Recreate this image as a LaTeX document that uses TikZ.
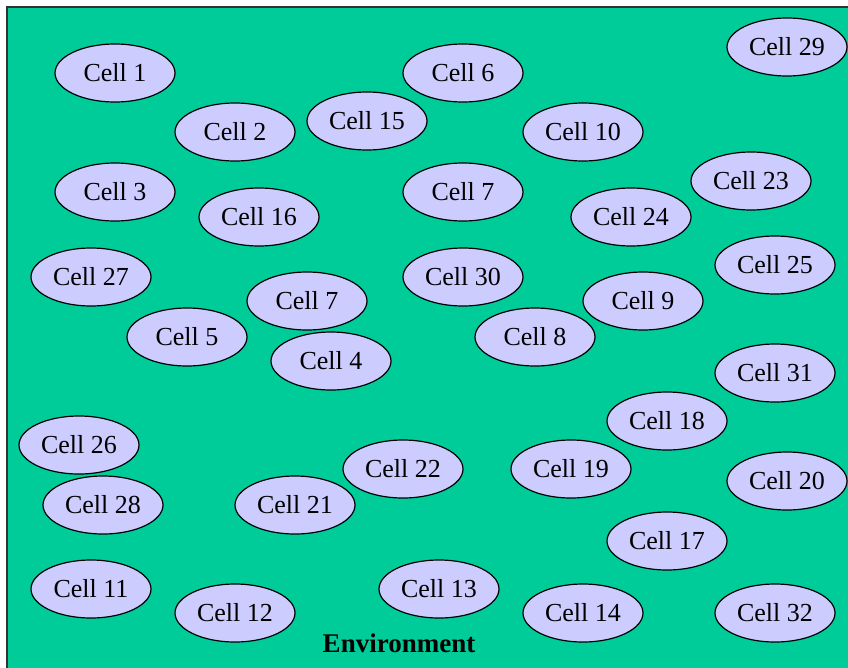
\documentclass[tikz,border=0pt]{standalone}
\usepackage{fontspec}
\setmainfont{Liberation Serif}
\usetikzlibrary{shapes.geometric}
\definecolor{envgreen}{RGB}{0,204,153}
\definecolor{cellfill}{RGB}{204,204,255}
\tikzset{
  cell/.style={ellipse, draw=black, line width=1.2pt, fill=cellfill, minimum width=120pt, minimum height=58pt, inner sep=0pt, font=\fontsize{26}{30}\selectfont},
  envlabel/.style={font=\fontsize{27}{30}\selectfont\bfseries, inner sep=0pt}
}
\begin{document}
\begin{tikzpicture}[x=1pt,y=-1pt]
\useasboundingbox (0,0) rectangle (848,667);
\fill[white] (0,0) rectangle (848,667);
\filldraw[fill=envgreen, draw=black!80, line width=1.5pt] (7,7) rectangle (851,670);
\node[cell] (c1) at (115,73) {Cell 1};
\node[cell] (c6) at (463,73) {Cell 6};
\node[cell] (c29) at (787,47) {Cell 29};
\node[cell] (c2) at (235,132) {Cell 2};
\node[cell] (c15) at (367,121) {Cell 15};
\node[cell] (c10) at (583,132) {Cell 10};
\node[cell] (c3) at (115,192) {Cell 3};
\node[cell] (c16) at (259,217) {Cell 16};
\node[cell] (c7a) at (463,192) {Cell 7};
\node[cell] (c24) at (631,217) {Cell 24};
\node[cell] (c23) at (751,181) {Cell 23};
\node[cell] (c27) at (91,277) {Cell 27};
\node[cell] (c30) at (463,277) {Cell 30};
\node[cell] (c25) at (775,265) {Cell 25};
\node[cell] (c7b) at (307,301) {Cell 7};
\node[cell] (c9) at (643,301) {Cell 9};
\node[cell] (c5) at (187,337) {Cell 5};
\node[cell] (c8) at (535,337) {Cell 8};
\node[cell] (c4) at (331,361) {Cell 4};
\node[cell] (c31) at (775,373) {Cell 31};
\node[cell] (c18) at (667,421) {Cell 18};
\node[cell] (c26) at (79,445) {Cell 26};
\node[cell] (c22) at (403,469) {Cell 22};
\node[cell] (c19) at (571,469) {Cell 19};
\node[cell] (c20) at (787,481) {Cell 20};
\node[cell] (c28) at (103,505) {Cell 28};
\node[cell] (c21) at (295,505) {Cell 21};
\node[cell] (c17) at (667,541) {Cell 17};
\node[cell] (c11) at (91,589) {Cell 11};
\node[cell] (c13) at (439,589) {Cell 13};
\node[cell] (c12) at (235,613) {Cell 12};
\node[cell] (c14) at (583,613) {Cell 14};
\node[cell] (c32) at (775,613) {Cell 32};
\node[envlabel] (env) at (399,643) {Environment};
\end{tikzpicture}
\end{document}
